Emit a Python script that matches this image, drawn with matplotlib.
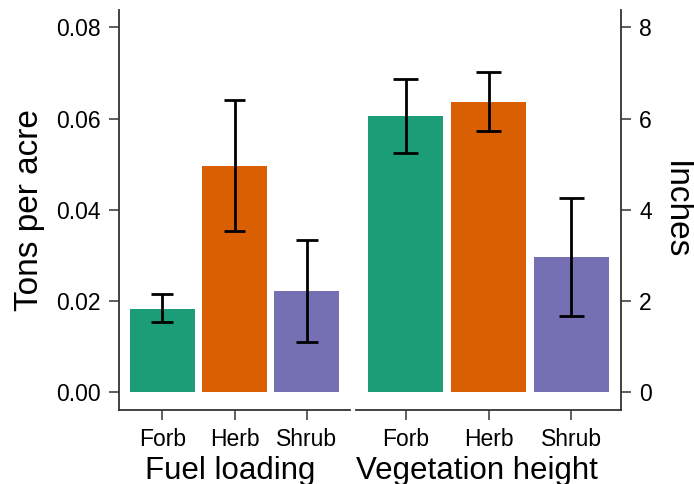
import numpy as np
import matplotlib
matplotlib.use("Agg")
import matplotlib.pyplot as plt
from matplotlib.ticker import FormatStrFormatter

plt.rcParams['font.family'] = ['Liberation Sans', 'DejaVu Sans']

# Data
categories = ["Forb", "Herb", "Shrub"]
colors = ["#1B9E77", "#D95F02", "#7570B3"]

fuel_mean = [0.0183, 0.0497, 0.0221]
fuel_low = [0.0153, 0.0354, 0.0109]
fuel_high = [0.0215, 0.0641, 0.0333]

height_mean = [6.05, 6.37, 2.96]
height_low = [5.25, 5.72, 1.67]
height_high = [6.86, 7.03, 4.25]

fuel_ticks = [0.00, 0.02, 0.04, 0.06, 0.08]
height_ticks = [0, 2, 4, 6, 8]

W, H = 694, 484
fig = plt.figure(figsize=(W / 100, H / 100), dpi=100)

ax1 = fig.add_axes([119 / W, 74 / H, 231 / W, 400 / H])
ax2 = fig.add_axes([356 / W, 74 / H, 265 / W, 400 / H])

axis_color = "#333333"
bar_width = 0.9
cap_width = 0.3


def draw_panel(ax, mean, low, high):
    x = np.arange(len(categories))
    ax.bar(x, mean, width=bar_width, color=colors, edgecolor="none", zorder=2)
    ax.vlines(x, low, high, color="black", linewidth=2.0, zorder=3)
    ax.hlines(low, x - cap_width / 2, x + cap_width / 2, color="black", linewidth=2.0, zorder=3)
    ax.hlines(high, x - cap_width / 2, x + cap_width / 2, color="black", linewidth=2.0, zorder=3)
    ax.set_xlim(-0.6, 2.6)
    ax.set_xticks(x)
    ax.set_xticklabels(categories, fontsize=16.5)
    ax.tick_params(axis="x", length=7, width=1.2, color="#444444", pad=6)
    ax.tick_params(axis="y", length=7, width=1.2, color="#444444", labelsize=16.5, pad=6)
    for s in ax.spines.values():
        s.set_linewidth(1.3)
        s.set_color(axis_color)
    ax.spines["top"].set_visible(False)


draw_panel(ax1, fuel_mean, fuel_low, fuel_high)
ax1.set_ylim(-0.0039, 0.0838)
ax1.set_yticks(fuel_ticks)
ax1.yaxis.set_major_formatter(FormatStrFormatter("%.2f"))
ax1.spines["right"].set_visible(False)
ax1.set_ylabel("Tons per acre", fontsize=24, labelpad=8)
ax1.set_xlabel("Fuel loading", fontsize=22.5)
ax1.xaxis.set_label_coords(0.48, -0.115)

draw_panel(ax2, height_mean, height_low, height_high)
ax2.set_ylim(-0.39, 8.38)
ax2.set_yticks(height_ticks)
ax2.spines["left"].set_visible(False)
ax2.yaxis.tick_right()
ax2.yaxis.set_label_position("right")
ax2.set_ylabel("Inches", fontsize=24, rotation=270, labelpad=28)
ax2.set_xlabel("Vegetation height", fontsize=22.5)
ax2.xaxis.set_label_coords(0.455, -0.115)

fig.savefig("out.png", dpi=100, facecolor="white")
